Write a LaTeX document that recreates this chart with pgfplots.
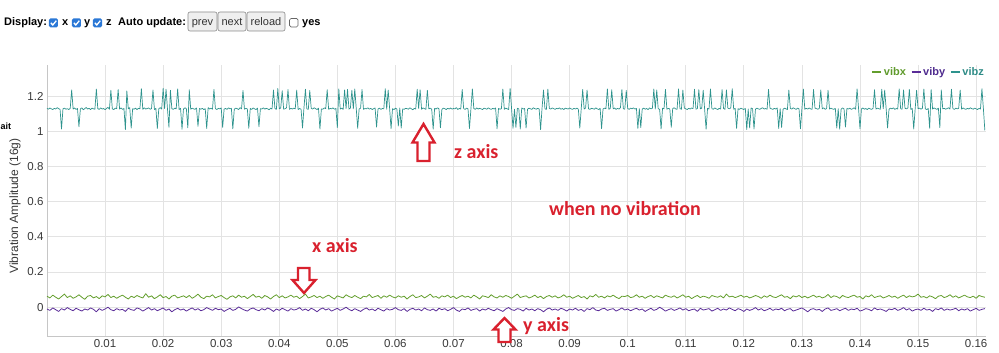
\documentclass[border=0pt]{standalone}
\usepackage{fontspec}
\setmainfont{Liberation Sans}
\newfontfamily\calibri{Carlito}
\usepackage{pgfplots}
\usepackage{pgfplotstable}
\pgfplotsset{compat=1.18}
\definecolor{cz}{HTML}{2E938D}
\definecolor{cx}{HTML}{639E2C}
\definecolor{cy}{HTML}{5A2C98}
\definecolor{lx}{HTML}{5F9A2C}
\definecolor{ly}{HTML}{4E2A8E}
\definecolor{lz}{HTML}{2E8B86}
\definecolor{annred}{HTML}{D9212E}
\definecolor{cbblue}{HTML}{2B78D6}
\definecolor{btnfill}{HTML}{EFEFEF}
\definecolor{btnedge}{HTML}{8A8A8A}

\pgfplotstableread[header=false,row sep=\\]{
0.062\\0.052\\0.068\\0.056\\0.046\\0.060\\0.074\\0.054\\0.064\\0.050\\0.058\\0.070\\
0.056\\0.044\\0.062\\0.066\\0.052\\0.060\\0.048\\0.064\\0.058\\0.072\\0.054\\0.062\\
0.050\\0.060\\0.068\\0.056\\0.046\\0.062\\0.054\\0.066\\0.058\\0.052\\0.076\\0.056\\
0.064\\0.048\\0.058\\0.070\\0.054\\0.060\\0.046\\0.062\\0.068\\0.052\\0.058\\0.064\\
0.054\\0.066\\0.050\\0.060\\0.074\\0.056\\0.048\\0.062\\0.058\\0.070\\0.052\\0.060\\
0.066\\0.054\\0.044\\0.058\\0.064\\0.052\\0.068\\0.056\\0.062\\0.048\\0.060\\0.072\\
0.056\\0.062\\0.050\\0.066\\0.058\\0.046\\0.060\\0.070\\0.054\\0.064\\0.052\\0.058\\
0.068\\0.056\\0.062\\0.048\\0.060\\0.074\\0.052\\0.058\\0.066\\0.054\\0.062\\0.050\\
0.060\\0.068\\0.056\\0.046\\0.064\\0.058\\0.052\\0.070\\0.060\\0.054\\0.066\\0.056\\
0.048\\0.062\\0.058\\0.072\\0.054\\0.060\\0.066\\0.050\\0.064\\0.056\\0.068\\0.058\\
0.052\\0.064\\0.056\\0.062\\0.046\\0.060\\0.070\\0.054\\0.058\\0.066\\0.052\\0.062\\
0.074\\0.056\\0.060\\0.050\\0.064\\0.058\\0.068\\0.054\\0.062\\0.048\\0.058\\0.066\\
0.056\\0.062\\0.052\\0.068\\0.058\\0.046\\0.064\\0.060\\0.054\\0.070\\0.058\\0.052\\
0.064\\0.056\\0.066\\0.060\\0.050\\0.062\\0.074\\0.054\\0.060\\0.064\\0.052\\0.058\\
0.068\\0.054\\0.062\\0.048\\0.060\\0.066\\0.056\\0.064\\0.052\\0.058\\0.070\\0.056\\
0.062\\0.050\\0.058\\0.066\\0.054\\0.060\\0.046\\0.064\\0.058\\0.072\\0.056\\0.062\\
0.052\\0.064\\0.058\\0.068\\0.056\\0.048\\0.062\\0.060\\0.066\\0.054\\0.058\\0.070\\
0.056\\0.062\\0.050\\0.060\\0.066\\0.054\\0.064\\0.058\\0.052\\0.068\\0.060\\0.056\\
0.064\\0.052\\0.060\\0.070\\0.056\\0.062\\0.048\\0.058\\0.066\\0.054\\0.062\\0.058\\
0.050\\0.066\\0.060\\0.056\\0.064\\0.052\\0.074\\0.058\\0.062\\0.054\\0.060\\0.068\\
0.056\\0.062\\0.052\\0.058\\0.066\\0.060\\0.050\\0.064\\0.056\\0.068\\0.058\\0.054\\
0.062\\0.070\\0.056\\0.060\\0.048\\0.064\\0.058\\0.066\\0.054\\0.062\\0.052\\0.060\\
0.068\\0.056\\0.062\\0.052\\0.058\\0.072\\0.054\\0.064\\0.060\\0.050\\0.066\\0.058\\
0.054\\0.062\\0.068\\0.056\\0.060\\0.046\\0.064\\0.058\\0.070\\0.054\\0.060\\0.064\\
0.052\\0.058\\0.066\\0.056\\0.062\\0.050\\0.060\\0.068\\0.054\\0.064\\0.058\\0.062\\
0.074\\0.056\\0.060\\0.052\\0.064\\0.058\\0.048\\0.062\\0.066\\0.054\\0.060\\0.070\\
0.056\\0.064\\0.052\\0.060\\0.068\\0.058\\0.054\\0.062\\0.050\\0.066\\0.060\\0.056\\
}\vibx

\pgfplotstableread[header=false,row sep=\\]{
-0.011\\-0.019\\-0.005\\-0.015\\-0.025\\-0.009\\-0.017\\-0.003\\-0.013\\-0.021\\-0.007\\-0.015\\
-0.023\\-0.011\\-0.017\\-0.005\\-0.013\\-0.027\\-0.009\\-0.019\\-0.011\\-0.001\\-0.015\\-0.021\\
-0.009\\-0.017\\-0.013\\-0.025\\-0.007\\-0.015\\-0.019\\-0.005\\-0.011\\-0.023\\-0.013\\-0.003\\
-0.017\\-0.009\\-0.021\\-0.013\\-0.005\\-0.019\\-0.011\\-0.027\\-0.015\\-0.007\\-0.017\\-0.011\\
-0.023\\-0.013\\-0.005\\-0.017\\-0.009\\-0.021\\-0.015\\-0.003\\-0.011\\-0.019\\-0.007\\-0.015\\
-0.011\\-0.025\\-0.015\\-0.007\\-0.019\\-0.013\\0.001\\-0.009\\-0.017\\-0.023\\-0.011\\-0.005\\
-0.015\\-0.021\\-0.009\\-0.017\\-0.005\\-0.013\\-0.025\\-0.011\\-0.019\\-0.007\\-0.015\\-0.023\\
-0.009\\-0.017\\-0.013\\-0.003\\-0.019\\-0.011\\-0.021\\-0.007\\-0.015\\-0.027\\-0.013\\-0.005\\
-0.017\\-0.009\\-0.023\\-0.015\\-0.007\\-0.019\\-0.011\\-0.001\\-0.013\\-0.021\\-0.009\\-0.017\\
-0.025\\-0.013\\-0.005\\-0.017\\-0.011\\-0.021\\-0.007\\-0.015\\-0.023\\-0.009\\-0.017\\-0.013\\
-0.003\\-0.015\\-0.019\\-0.009\\-0.025\\-0.013\\-0.007\\-0.017\\-0.011\\-0.021\\-0.005\\-0.015\\
-0.019\\-0.011\\-0.023\\-0.007\\-0.015\\-0.009\\-0.021\\-0.013\\-0.003\\-0.017\\-0.025\\-0.011\\
-0.015\\-0.005\\-0.019\\-0.013\\-0.009\\-0.023\\-0.011\\-0.017\\-0.007\\-0.015\\-0.021\\-0.009\\
-0.017\\-0.025\\-0.011\\-0.003\\-0.015\\-0.019\\-0.009\\-0.013\\-0.023\\-0.007\\-0.017\\-0.011\\
-0.021\\-0.009\\-0.015\\-0.027\\-0.013\\-0.005\\-0.017\\-0.011\\-0.019\\-0.007\\-0.013\\-0.023\\
-0.011\\-0.017\\-0.007\\-0.019\\-0.013\\-0.025\\-0.009\\-0.015\\-0.003\\-0.017\\-0.021\\-0.011\\
-0.007\\-0.019\\-0.013\\-0.009\\-0.023\\-0.015\\-0.005\\-0.017\\-0.011\\-0.021\\-0.013\\-0.007\\
-0.017\\-0.011\\-0.025\\-0.015\\-0.007\\-0.019\\-0.013\\-0.001\\-0.011\\-0.023\\-0.015\\-0.009\\
-0.019\\-0.013\\-0.005\\-0.017\\-0.009\\-0.021\\-0.015\\-0.011\\-0.025\\-0.007\\-0.017\\-0.013\\
-0.009\\-0.023\\-0.015\\-0.007\\-0.019\\-0.011\\-0.017\\-0.005\\-0.013\\-0.021\\-0.009\\-0.015\\
-0.025\\-0.011\\-0.019\\-0.013\\-0.003\\-0.017\\-0.009\\-0.021\\-0.015\\-0.007\\-0.019\\-0.011\\
-0.015\\-0.007\\-0.021\\-0.013\\-0.009\\-0.023\\-0.017\\-0.011\\-0.005\\-0.015\\-0.027\\-0.013\\
-0.009\\-0.017\\-0.013\\-0.025\\-0.011\\-0.005\\-0.019\\-0.015\\-0.009\\-0.021\\-0.013\\-0.007\\
-0.019\\-0.011\\-0.015\\-0.007\\-0.023\\-0.017\\-0.009\\-0.013\\-0.021\\-0.005\\-0.015\\-0.011\\
-0.017\\-0.025\\-0.011\\-0.015\\-0.007\\-0.019\\-0.013\\-0.003\\-0.017\\-0.009\\-0.023\\-0.015\\
-0.011\\-0.019\\-0.007\\-0.017\\-0.013\\-0.025\\-0.009\\-0.015\\-0.005\\-0.019\\-0.011\\-0.017\\
-0.013\\-0.007\\-0.021\\-0.011\\-0.017\\-0.009\\-0.023\\-0.015\\-0.007\\-0.019\\-0.013\\-0.009\\
}\viby

\pgfplotstableread[header=false,row sep=\\]{
1.132\\1.128\\1.135\\1.130\\1.126\\1.133\\1.129\\1.137\\1.131\\1.127\\
1.015\\1.130\\1.134\\1.128\\1.131\\1.126\\1.133\\1.238\\1.129\\1.135\\
1.127\\1.132\\1.028\\1.130\\1.136\\1.125\\1.131\\1.138\\1.129\\1.133\\
1.126\\1.134\\1.130\\1.128\\1.243\\1.131\\1.127\\1.136\\1.129\\1.132\\
1.125\\1.133\\1.138\\1.128\\1.236\\1.130\\1.126\\1.134\\1.131\\1.240\\
1.129\\1.135\\1.127\\1.132\\1.012\\1.232\\1.130\\1.137\\1.020\\1.131\\
1.128\\1.134\\1.126\\1.133\\1.130\\1.245\\1.127\\1.136\\1.129\\1.132\\
1.135\\1.128\\1.131\\1.238\\1.126\\1.133\\1.018\\1.130\\1.137\\1.129\\
1.247\\1.132\\1.242\\1.128\\1.025\\1.236\\1.131\\1.127\\1.134\\1.130\\
1.244\\1.126\\1.133\\1.014\\1.129\\1.136\\1.131\\1.022\\1.239\\1.128\\
1.134\\1.130\\1.127\\1.135\\1.030\\1.132\\1.128\\1.133\\1.126\\1.131\\
1.018\\1.137\\1.129\\1.134\\1.128\\1.241\\1.131\\1.126\\1.133\\1.130\\
1.135\\1.024\\1.129\\1.132\\1.127\\1.136\\1.130\\1.133\\1.016\\1.128\\
1.134\\1.131\\1.126\\1.137\\1.130\\1.235\\1.128\\1.133\\1.129\\1.019\\
1.132\\1.127\\1.135\\1.130\\1.126\\1.134\\1.028\\1.131\\1.129\\1.136\\
1.128\\1.133\\1.130\\1.125\\1.134\\1.129\\1.238\\1.132\\1.127\\1.246\\
1.130\\1.135\\1.233\\1.128\\1.131\\1.136\\1.240\\1.127\\1.133\\1.129\\
1.134\\1.130\\1.237\\1.126\\1.132\\1.128\\1.021\\1.135\\1.242\\1.130\\
1.127\\1.235\\1.133\\1.129\\1.136\\1.131\\1.126\\1.134\\1.015\\1.130\\
1.128\\1.135\\1.131\\1.239\\1.127\\1.133\\1.130\\1.136\\1.128\\1.132\\
1.023\\1.244\\1.129\\1.134\\1.127\\1.238\\1.131\\1.241\\1.128\\1.135\\
1.236\\1.130\\1.243\\1.133\\1.019\\1.129\\1.134\\1.240\\1.127\\1.132\\
1.130\\1.136\\1.128\\1.133\\1.126\\1.131\\1.135\\1.026\\1.129\\1.134\\
1.127\\1.132\\1.130\\1.245\\1.128\\1.237\\1.133\\1.017\\1.131\\1.126\\
1.134\\1.129\\1.032\\1.135\\1.020\\1.130\\1.127\\1.133\\1.131\\1.128\\
1.136\\1.130\\1.125\\1.133\\1.129\\1.242\\1.132\\1.239\\1.128\\1.135\\
1.131\\1.127\\1.236\\1.130\\1.134\\1.128\\1.014\\1.133\\1.129\\1.136\\
1.130\\1.022\\1.127\\1.134\\1.131\\1.126\\1.133\\1.129\\1.135\\1.128\\
1.132\\1.130\\1.137\\1.126\\1.133\\1.129\\1.240\\1.131\\1.127\\1.134\\
1.130\\1.018\\1.128\\1.244\\1.132\\1.127\\1.135\\1.129\\1.133\\1.130\\
1.126\\1.134\\1.131\\1.128\\1.136\\1.130\\1.127\\1.133\\1.129\\1.135\\
1.016\\1.132\\1.128\\1.131\\1.243\\1.127\\1.134\\1.130\\1.126\\1.246\\
1.132\\1.019\\1.128\\1.024\\1.133\\1.130\\1.015\\1.135\\1.129\\1.132\\
1.021\\1.128\\1.134\\1.130\\1.127\\1.136\\1.131\\1.128\\1.133\\1.129\\
1.012\\1.134\\1.238\\1.130\\1.127\\1.242\\1.133\\1.129\\1.135\\1.131\\
1.127\\1.133\\1.130\\1.136\\1.128\\1.132\\1.126\\1.134\\1.131\\1.129\\
1.135\\1.130\\1.127\\1.133\\1.129\\1.134\\1.128\\1.020\\1.132\\1.241\\
1.129\\1.135\\1.237\\1.130\\1.127\\1.133\\1.131\\1.128\\1.136\\1.130\\
1.126\\1.133\\1.017\\1.129\\1.134\\1.131\\1.244\\1.128\\1.132\\1.239\\
1.130\\1.135\\1.127\\1.133\\1.129\\1.136\\1.240\\1.131\\1.128\\1.235\\
1.132\\1.127\\1.134\\1.130\\1.136\\1.128\\1.133\\1.018\\1.131\\1.023\\
1.129\\1.134\\1.128\\1.132\\1.126\\1.135\\1.130\\1.133\\1.243\\1.129\\
1.238\\1.131\\1.127\\1.016\\1.134\\1.130\\1.241\\1.128\\1.133\\1.129\\
1.025\\1.132\\1.136\\1.130\\1.127\\1.244\\1.131\\1.128\\1.237\\1.134\\
1.130\\1.126\\1.133\\1.129\\1.135\\1.131\\1.242\\1.128\\1.132\\1.239\\
1.130\\1.134\\1.236\\1.127\\1.014\\1.133\\1.129\\1.243\\1.131\\1.128\\
1.135\\1.130\\1.126\\1.133\\1.129\\1.240\\1.132\\1.127\\1.238\\1.134\\
1.130\\1.136\\1.245\\1.128\\1.133\\1.019\\1.131\\1.127\\1.134\\1.130\\
1.126\\1.133\\1.012\\1.129\\1.021\\1.135\\1.131\\1.015\\1.128\\1.134\\
1.130\\1.127\\1.133\\1.136\\1.129\\1.132\\1.128\\1.241\\1.134\\1.130\\
1.127\\1.133\\1.129\\1.135\\1.018\\1.131\\1.024\\1.128\\1.134\\1.130\\
1.126\\1.237\\1.133\\1.129\\1.136\\1.131\\1.127\\1.134\\1.130\\1.016\\
1.132\\1.243\\1.128\\1.133\\1.129\\1.135\\1.130\\1.127\\1.240\\1.134\\
1.131\\1.128\\1.133\\1.238\\1.130\\1.136\\1.127\\1.132\\1.236\\1.129\\
1.134\\1.130\\1.127\\1.133\\1.020\\1.131\\1.014\\1.128\\1.135\\1.130\\
1.026\\1.132\\1.129\\1.134\\1.127\\1.131\\1.136\\1.128\\1.244\\1.133\\
1.017\\1.130\\1.135\\1.128\\1.132\\1.126\\1.134\\1.130\\1.127\\1.133\\
1.239\\1.129\\1.134\\1.131\\1.127\\1.242\\1.130\\1.237\\1.133\\1.021\\
1.128\\1.134\\1.130\\1.136\\1.127\\1.132\\1.129\\1.244\\1.131\\1.128\\
1.238\\1.133\\1.130\\1.135\\1.241\\1.127\\1.132\\1.015\\1.129\\1.236\\
1.131\\1.134\\1.128\\1.133\\1.243\\1.130\\1.126\\1.132\\1.019\\1.240\\
1.129\\1.135\\1.131\\1.127\\1.134\\1.023\\1.238\\1.130\\1.133\\1.128\\
1.132\\1.136\\1.129\\1.242\\1.131\\1.127\\1.134\\1.130\\1.133\\1.237\\
1.128\\1.135\\1.130\\1.127\\1.133\\1.129\\1.136\\1.131\\1.128\\1.134\\
1.130\\1.126\\1.133\\1.129\\1.245\\1.131\\1.008\\
}\vibz

\begin{document}
\begin{tikzpicture}[x=1pt,y=1pt]
\useasboundingbox (-47,-17) rectangle (952,336);
\begin{axis}[
  scale only axis, width=939pt, height=271pt,
  xmin=0, xmax=0.1617, ymin=-0.165, ymax=1.38,
  axis x line*=bottom, axis y line*=left,
  axis line style={draw=gray!45, line width=0.8pt},
  grid=major, major grid style={draw=gray!22, line width=0.8pt},
  xtick={0.01,0.02,0.03,0.04,0.05,0.06,0.07,0.08,0.09,0.1,0.11,0.12,0.13,0.14,0.15,0.16},
  ytick={0,0.2,0.4,0.6,0.8,1,1.2},
  major tick length=0pt,
  /pgf/number format/assume math mode=true,
  tick label style={font=\fontsize{11.5}{11.5}\selectfont, text=black!78},
  xticklabel style={/pgf/number format/fixed, /pgf/number format/precision=2},
  scaled x ticks=false, scaled y ticks=false,
  ylabel={Vibration Amplitude (16g)},
  ylabel style={at={(axis description cs:-0.0341,0.48)}, anchor=center, font=\fontsize{12}{12}\selectfont, text=black!78},
  legend columns=-1,
  legend style={at={(1,1)}, anchor=north east, yshift=0pt, draw=none, fill=none, inner sep=0pt,
    font=\bfseries\fontsize{11}{11}\selectfont,
    /tikz/every even column/.append style={column sep=3pt}},
  legend image code/.code={\draw[#1, line width=1.2pt] (0pt,0pt) -- (9pt,0pt);},
]
\addplot[color=cx, line width=0.8pt, line join=round] table[x expr=\coordindex*0.0005, y index=0] {\vibx};
\addlegendentry{\textcolor{lx}{vibx}}
\addplot[color=cy, line width=0.8pt, line join=round] table[x expr=\coordindex*0.0005, y index=0] {\viby};
\addlegendentry{\textcolor{ly}{viby}}
\addplot[color=cz, line width=0.7pt, line join=round] table[x expr=\coordindex*0.00025, y index=0] {\vibz};
\addlegendentry{\textcolor{lz}{vibz}}
\end{axis}

% page controls
\begin{scope}[every node/.style={inner sep=0pt, font=\fontsize{11}{11}\selectfont}]
\node[anchor=base west, font=\bfseries\fontsize{11}{11}\selectfont] at (-43,310) {Display:};
\foreach \cx in {2,25,46}{
  \fill[cbblue, rounded corners=1.5pt] (\cx,308.5) rectangle ++(9,9);
  \draw[white, line width=1.3pt] (\cx+1.8,313.2) -- (\cx+3.8,311) -- (\cx+7.3,315.3);
}
\node[anchor=base west, font=\bfseries\fontsize{11}{11}\selectfont] at (15,310) {x};
\node[anchor=base west, font=\bfseries\fontsize{11}{11}\selectfont] at (37,310) {y};
\node[anchor=base west, font=\bfseries\fontsize{11}{11}\selectfont] at (59,310) {z};
\node[anchor=base west, font=\bfseries\fontsize{11}{11}\selectfont] at (71,310) {Auto update:};
\filldraw[fill=btnfill, draw=btnedge, line width=0.6pt, rounded corners=2pt] (141,305) rectangle (170,324);
\filldraw[fill=btnfill, draw=btnedge, line width=0.6pt, rounded corners=2pt] (171,305) rectangle (199,324);
\filldraw[fill=btnfill, draw=btnedge, line width=0.6pt, rounded corners=2pt] (200,305) rectangle (238,324);
\node[anchor=base, text=black!80] at (155.5,310) {prev};
\node[anchor=base, text=black!80] at (185,310) {next};
\node[anchor=base, text=black!80] at (219,310) {reload};
\draw[draw=gray!80!black, line width=0.7pt, rounded corners=1.5pt, fill=white] (242.5,309) rectangle ++(8.5,8.5);
\node[anchor=base west, font=\bfseries\fontsize{11}{11}\selectfont] at (255,310) {yes};
\node[anchor=west, font=\bfseries\fontsize{9}{9}\selectfont] at (-46.5,209.5) {ait};
\end{scope}

% annotations
\begin{scope}[draw=annred, line width=2.4pt, fill=white, line join=miter]
\filldraw (376.5,212) -- (387.5,193.5) -- (382.5,193.5) -- (382.5,175) -- (370.5,175) -- (370.5,193.5) -- (365.5,193.5) -- cycle;
\filldraw (257,43) -- (268.5,56) -- (262.5,56) -- (262.5,68) -- (251,68) -- (251,56) -- (245.5,56) -- cycle;
\filldraw (457.5,18) -- (468.5,6.5) -- (463.5,6.5) -- (463.5,-6) -- (451.5,-6) -- (451.5,6.5) -- (446.5,6.5) -- cycle;
\end{scope}
\begin{scope}[every node/.style={inner sep=0pt, text=annred, font=\calibri\bfseries\fontsize{20}{20}\selectfont}]
\node[anchor=base west] at (407,177) {z axis};
\node[anchor=base west] at (502,120.3) {when no vibration};
\node[anchor=base west] at (265,83.3) {x axis};
\node[anchor=base west] at (476,4.3) {y axis};
\end{scope}
\end{tikzpicture}
\end{document}
